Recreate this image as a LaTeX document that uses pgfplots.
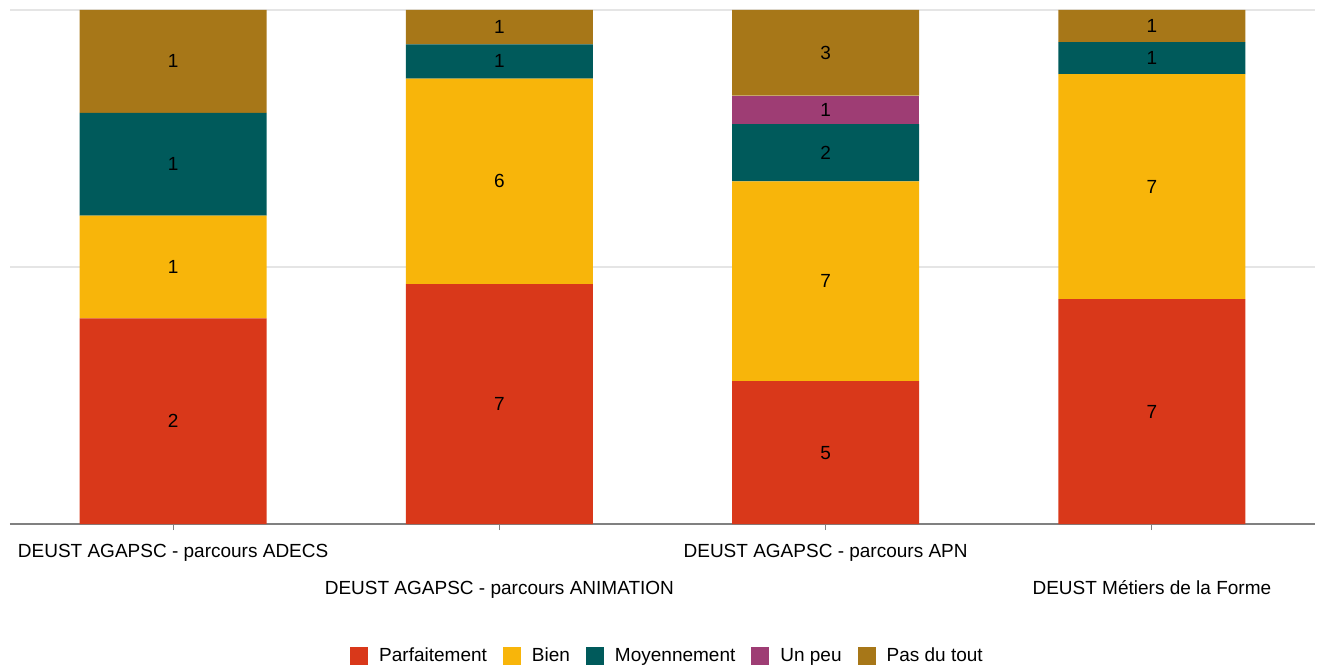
\documentclass[border=0pt]{standalone}
\usepackage{pgfplots}
\pgfplotsset{compat=1.18}
\usepackage{fontspec}
\setmainfont{Liberation Sans}
\definecolor{cRed}{HTML}{D9381A}
\definecolor{cYel}{HTML}{F8B50A}
\definecolor{cTeal}{HTML}{005A5B}
\definecolor{cPur}{HTML}{9E3D74}
\definecolor{cBrn}{HTML}{A77718}
\begin{document}
\begin{tikzpicture}
\path[use as bounding box] (-5pt,-72pt) rectangle (655pt,262pt);
\begin{axis}[
  at={(0,0)}, anchor=south west, scale only axis, width=652.5pt, height=257pt,
  ybar stacked, bar width=0.573,
  xmin=-0.5, xmax=3.5, ymin=0, ymax=100,
  xtick={0,1,2,3},
  xticklabels={{DEUST AGAPSC - parcours ADECS},{\rule{0pt}{25pt}DEUST AGAPSC - parcours ANIMATION},{DEUST AGAPSC - parcours APN},{\rule{0pt}{25pt}DEUST Métiers de la Forme}},
  ytick={50,100}, yticklabels={}, ymajorgrids,
  grid style={draw=black!10, line width=0.7pt},
  axis x line*=bottom, axis y line*=left,
  y axis line style={draw=none}, ytick style={draw=none},
  x axis line style={draw=black!50, line width=0.7pt},
  xtick style={draw=black!50, line width=0.6pt},
  tick align=outside, major tick length=3pt,
  xticklabel style={font=\fontsize{9.5}{11.5}\selectfont, text=black, yshift=-3.5pt},
  nodes near coords, point meta=explicit symbolic,
  every node near coord/.append style={font=\fontsize{9.5}{11}\selectfont, anchor=center, text=black},
  legend style={at={(0.5,0)}, anchor=center, yshift=-66pt, xshift=3pt, draw=none, fill=none,
    font=\fontsize{9.5}{11}\selectfont,
    /tikz/every odd column/.append style={column sep=3.5pt},
    /tikz/every even column/.append style={column sep=6pt}},
  legend columns=-1,
]
\addplot[fill=cRed, draw=none, legend image code/.code={\fill[cRed] (0pt,-4.5pt) rectangle (9pt,4.5pt);}] coordinates {(0,40)[2] (1,46.666)[7] (2,27.777)[5] (3,43.75)[7]};
\addplot[fill=cYel, draw=none, legend image code/.code={\fill[cYel] (0pt,-4.5pt) rectangle (9pt,4.5pt);}] coordinates {(0,20)[1] (1,40)[6] (2,38.889)[7] (3,43.75)[7]};
\addplot[fill=cTeal, draw=none, legend image code/.code={\fill[cTeal] (0pt,-4.5pt) rectangle (9pt,4.5pt);}] coordinates {(0,20)[1] (1,6.667)[1] (2,11.111)[2] (3,6.25)[1]};
\addplot[fill=cPur, draw=none, legend image code/.code={\fill[cPur] (0pt,-4.5pt) rectangle (9pt,4.5pt);}] coordinates {(0,0)[] (1,0)[] (2,5.556)[1] (3,0)[]};
\addplot[fill=cBrn, draw=none, legend image code/.code={\fill[cBrn] (0pt,-4.5pt) rectangle (9pt,4.5pt);}] coordinates {(0,20)[1] (1,6.667)[1] (2,16.667)[3] (3,6.25)[1]};
\legend{Parfaitement, Bien, Moyennement, Un peu, Pas du tout}
\end{axis}
\end{tikzpicture}
\end{document}
